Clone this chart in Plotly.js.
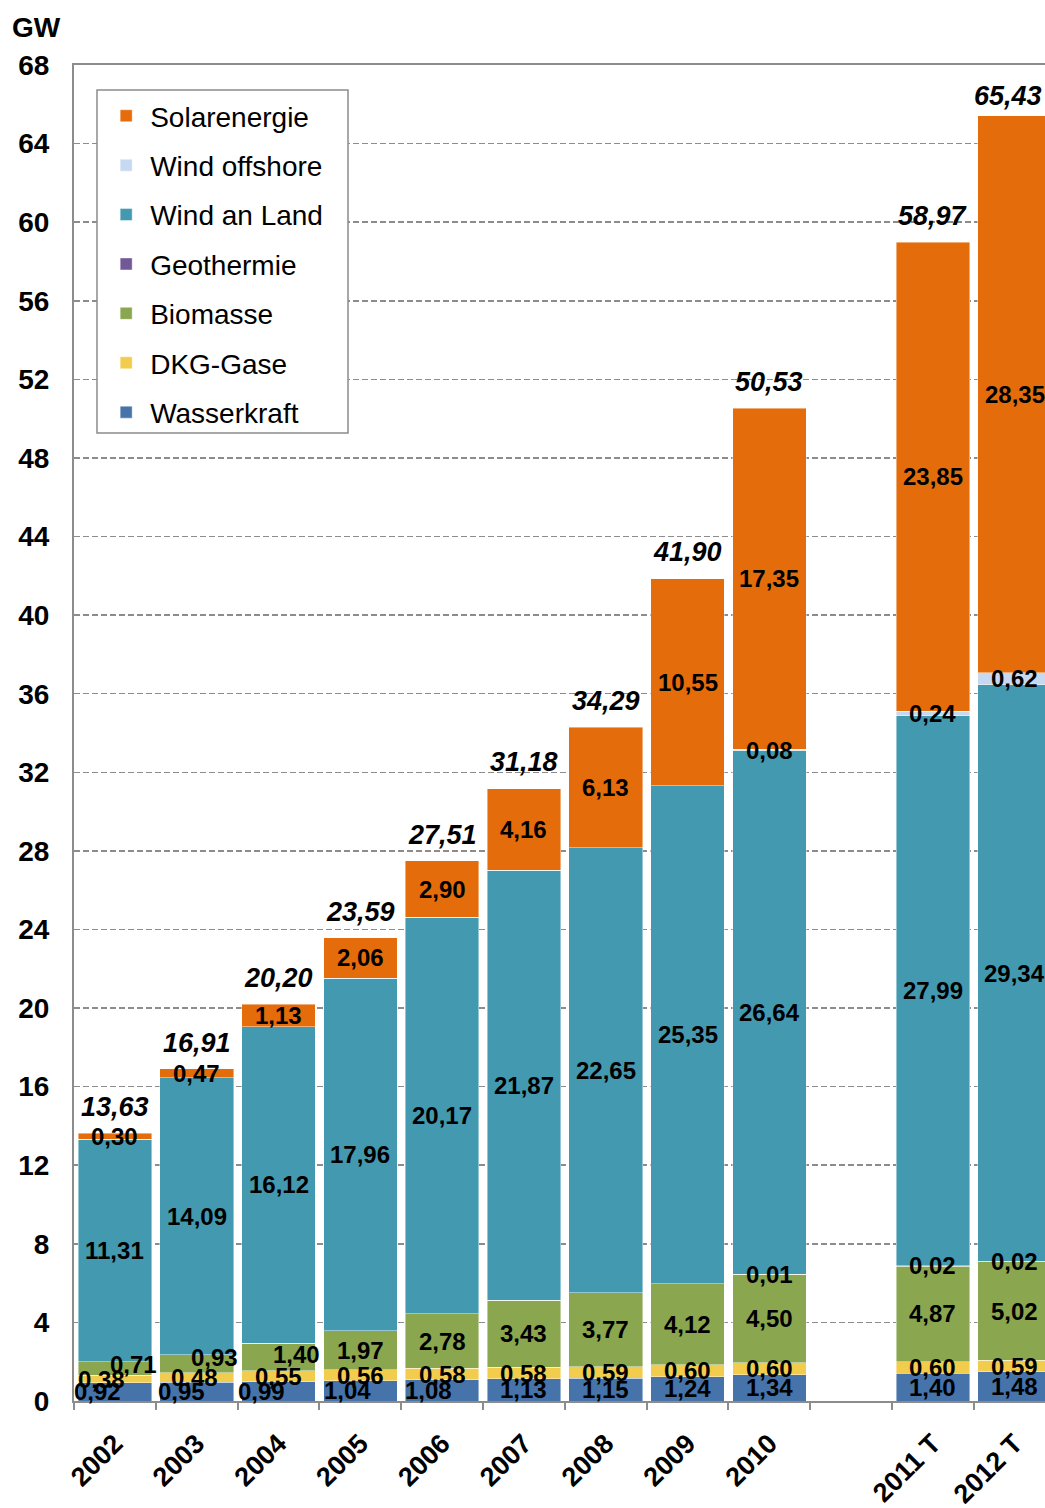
<!DOCTYPE html>
<html>
<head>
<meta charset="utf-8">
<script src="https://cdn.plot.ly/plotly-3.0.1.min.js"></script>
<style>
  html, body { margin: 0; padding: 0; background: #ffffff; overflow: hidden; }
  #chart { width: 1045px; height: 1508px; }
</style>
</head>
<body>
<div id="chart"></div>
<script>
// Installierte Leistung erneuerbarer Energien (GW), ' ' = Leerspalte zwischen 2010 und 2011 T
const categories = ['2002', '2003', '2004', '2005', '2006', '2007', '2008', '2009', '2010', ' ', '2011 T', '2012 T'];

const wasserkraft  = [0.92, 0.95, 0.99, 1.04, 1.08, 1.13, 1.15, 1.24, 1.34, null, 1.40, 1.48];
const dkgGase      = [0.38, 0.48, 0.55, 0.56, 0.58, 0.58, 0.59, 0.60, 0.60, null, 0.60, 0.59];
const biomasse     = [0.71, 0.93, 1.40, 1.97, 2.78, 3.43, 3.77, 4.12, 4.50, null, 4.87, 5.02];
const geothermie   = [0, 0, 0, 0, 0, 0, 0, 0, 0.01, null, 0.02, 0.02];
const windAnLand   = [11.31, 14.09, 16.12, 17.96, 20.17, 21.87, 22.65, 25.35, 26.64, null, 27.99, 29.34];
const windOffshore = [0, 0, 0, 0, 0, 0, 0, 0, 0.08, null, 0.24, 0.62];
const solar        = [0.30, 0.47, 1.13, 2.06, 2.90, 4.16, 6.13, 10.55, 17.35, null, 23.85, 28.35];
const totals       = [13.63, 16.91, 20.20, 23.59, 27.51, 31.18, 34.29, 41.90, 50.53, null, 58.97, 65.43];

// Stapelreihenfolge von unten nach oben
const series = [
  { name: 'Wasserkraft',   values: wasserkraft,  color: '#4674AA' },
  { name: 'DKG-Gase',      values: dkgGase,      color: '#F2CC4C' },
  { name: 'Biomasse',      values: biomasse,     color: '#8AA64E' },
  { name: 'Geothermie',    values: geothermie,   color: '#725896' },
  { name: 'Wind an Land',  values: windAnLand,   color: '#4399B0' },
  { name: 'Wind offshore', values: windOffshore, color: '#C6D9F1' },
  { name: 'Solarenergie',  values: solar,        color: '#E46C0A' }
];

// Versatz einzelner kleiner Beschriftungen (Pixel), damit sie sich nicht überdecken
const labelNudge = {
  'Wasserkraft|2002': [-17, 0], 'Wasserkraft|2003': [-15, 0], 'Wasserkraft|2004': [-17, 0],
  'Wasserkraft|2005': [-13, 0], 'Wasserkraft|2006': [-14, 0],
  'DKG-Gase|2002': [-13, 0], 'DKG-Gase|2003': [-2, 0],
  'Biomasse|2002': [19, 4], 'Biomasse|2003': [18, 6], 'Biomasse|2004': [18, 2]
};
const totalNudge = { '2012 T': [-7, -7] };

const FONT = 'Arial, "Liberation Sans", sans-serif';
const fmt = v => v.toFixed(2).replace('.', ',');

const traces = series.map((s, i) => ({
  type: 'bar',
  name: s.name,
  x: categories,
  y: s.values,
  legendgroup: 'g' + i,
  legendrank: series.length - i,
  marker: { color: s.color, line: { color: 'rgba(255,255,255,0.55)', width: 0.8 } },
  hoverinfo: 'skip'
}));

// Segmentbeschriftungen in der Mitte jedes Stapelteils (x = Kategorienindex)
const annotations = [];
const base = categories.map(() => 0);
series.forEach(s => {
  s.values.forEach((v, j) => {
    if (v === null) return;
    const mid = base[j] + v / 2;
    base[j] += v;
    if (v <= 0) return;
    const nudge = labelNudge[s.name + '|' + categories[j]] || [0, 0];
    annotations.push({
      x: j, y: mid, xref: 'x', yref: 'y',
      text: '<b>' + fmt(v) + '</b>', showarrow: false,
      xanchor: 'center', yanchor: 'middle',
      xshift: nudge[0], yshift: nudge[1],
      font: { family: FONT, size: 24, color: '#000000' }
    });
  });
});

// Summen über den Säulen
totals.forEach((t, j) => {
  if (t === null) return;
  const nudge = totalNudge[categories[j]] || [0, 0];
  annotations.push({
    x: j, y: t, xref: 'x', yref: 'y',
    text: '<b><i>' + fmt(t) + '</i></b>', showarrow: false,
    xanchor: 'center', yanchor: 'middle',
    xshift: nudge[0], yshift: 26 + nudge[1],
    font: { family: FONT, size: 27, color: '#000000' }
  });
});

// Einheit
annotations.push({
  x: -0.066, y: 1.028, xref: 'paper', yref: 'paper',
  text: '<b>GW</b>', showarrow: false,
  xanchor: 'left', yanchor: 'middle',
  font: { family: FONT, size: 28, color: '#000000' }
});

// Rahmen der Legende
const shapes = [{
  type: 'rect', xref: 'paper', yref: 'paper', layer: 'above',
  x0: (97 - 74) / 971, x1: (348 - 74) / 971,
  y0: (1401 - 433) / 1336, y1: (1401 - 90) / 1336,
  line: { color: '#8c8c8c', width: 1.5 }, fillcolor: '#ffffff'
}];

const layout = {
  width: 1045,
  height: 1508,
  autosize: false,
  margin: { l: 74, r: 0, t: 65, b: 107, pad: 0 },
  paper_bgcolor: '#ffffff',
  plot_bgcolor: '#ffffff',
  barmode: 'stack',
  bargap: 0.1,
  showlegend: true,
  legend: {
    x: 0.029, y: 0.9805, xanchor: 'left', yanchor: 'top',
    bgcolor: 'rgba(0,0,0,0)', borderwidth: 0,
    font: { family: FONT, size: 28, color: '#000000' },
    traceorder: 'grouped',
    tracegroupgap: 10,
    itemwidth: 38,
    itemclick: false, itemdoubleclick: false
  },
  xaxis: {
    type: 'category',
    categoryorder: 'array',
    categoryarray: categories,
    range: [-0.5, 11.37],
    showline: true, linecolor: '#8c8c8c', linewidth: 2, mirror: true,
    ticks: 'outside', tickson: 'boundaries', ticklen: 7, tickwidth: 2, tickcolor: '#8c8c8c',
    tickangle: -45, ticklabelstandoff: 14,
    tickfont: { family: FONT, size: 27, color: '#000000', weight: 'bold' },
    showgrid: false, zeroline: false, fixedrange: true
  },
  yaxis: {
    range: [0, 68], tick0: 0, dtick: 4,
    showline: true, linecolor: '#8c8c8c', linewidth: 2,
    ticks: '', ticklabelstandoff: 17,
    tickfont: { family: FONT, size: 28, color: '#000000', weight: 'bold' },
    showgrid: true, gridcolor: '#8c8c8c', gridwidth: 1.5, griddash: '6px,3px',
    zeroline: false, fixedrange: true
  },
  shapes: shapes,
  annotations: annotations
};

Plotly.newPlot('chart', traces, layout, { staticPlot: true, displayModeBar: false });
</script>
</body>
</html>
